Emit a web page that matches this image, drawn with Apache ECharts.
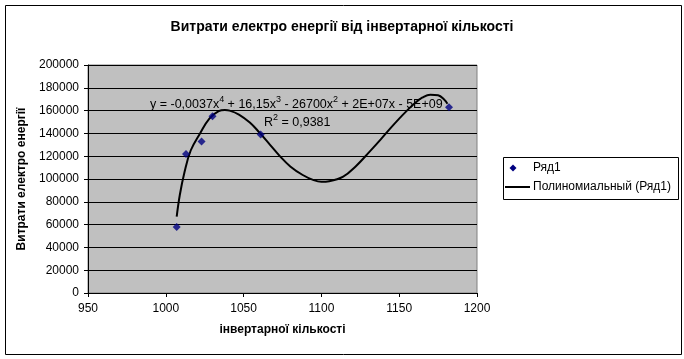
<!DOCTYPE html>
<html><head><meta charset="utf-8">
<script src="https://cdn.jsdelivr.net/npm/echarts@6/dist/echarts.min.js"></script>
<style>html,body{margin:0;padding:0;background:#fff}#c{width:684px;height:359px}</style>
</head><body><div id="c"></div>
<script>
// Data
const pointX = [1007, 1013, 1023, 1030, 1061, 1182];
const pointY = [58000, 122000, 133000, 155000, 139000, 163000];
// Trend line (polynomial, degree 4)
const trendX = [1007, 1009, 1012, 1016, 1022, 1028, 1034, 1038, 1041, 1047, 1054, 1060, 1067, 1073, 1080, 1088, 1095, 1100, 1105, 1114, 1122, 1131, 1138, 1144, 1150, 1155, 1160, 1165, 1170, 1175, 1179, 1181];
const trendY = [67000, 86000, 106000, 125000, 140000, 153000, 159500, 160500, 160000, 156500, 149500, 141000, 130000, 120500, 111000, 103500, 99000, 97500, 98000, 102000, 111000, 124000, 134500, 144000, 153000, 160000, 166500, 171500, 174000, 173500, 169500, 166000];
const xTicks = [950, 1000, 1050, 1100, 1150, 1200];
const yTicks = [0, 20000, 40000, 60000, 80000, 100000, 120000, 140000, 160000, 180000, 200000];
const seriesNames = ['Ряд1', 'Полиномиальный (Ряд1)'];
const titleText = 'Витрати електро енергії від інвертарної кількості';
const xName = 'інвертарної кількості';
const yName = 'Витрати електро енергії';
const eqRich = '{n|y = -0,0037x}{s|4}{n| + 16,15x}{s|3}{n| - 26700x}{s|2}{n| + 2E+07x - 5E+09}';
const r2Rich = '{n|R}{s|2}{n| = 0,9381}';

const font = '"Liberation Sans", Arial, sans-serif';
const richStyles = {
  n: {fontFamily: font, fontSize: 12.5, lineHeight: 16, color: '#000', verticalAlign: 'bottom'},
  s: {fontFamily: font, fontSize: 9, lineHeight: 16, color: '#000', verticalAlign: 'top'}
};
const chart = echarts.init(document.getElementById('c'), null, {renderer: 'canvas'});
chart.setOption({
  animation: false,
  backgroundColor: '#fff',
  textStyle: {fontFamily: font},
  title: {
    text: titleText, left: 'center', top: 15,
    textStyle: {fontFamily: font, fontSize: 14, fontWeight: 'bold', color: '#000'}
  },
  grid: {
    left: 88, right: 207, top: 65, bottom: 66,
    show: true, backgroundColor: '#c0c0c0', borderColor: '#808080', borderWidth: 1
  },
  legend: {show: false},
  xAxis: {
    type: 'value', min: xTicks[0], max: xTicks[xTicks.length - 1], interval: 50,
    name: xName, nameLocation: 'middle', nameGap: 31,
    nameTextStyle: {fontFamily: font, fontSize: 12, fontWeight: 'bold', color: '#000'},
    axisLine: {show: true, onZero: false, lineStyle: {color: '#000', width: 1}},
    axisTick: {show: true, length: 4, lineStyle: {color: '#000'}},
    axisLabel: {fontFamily: font, fontSize: 12, color: '#000', margin: 10, formatter: v => String(v)},
    splitLine: {show: false}
  },
  yAxis: {
    type: 'value', min: yTicks[0], max: yTicks[yTicks.length - 1], interval: 20000,
    name: yName, nameLocation: 'middle', nameGap: 52, nameRotate: 90,
    nameTextStyle: {fontFamily: font, fontSize: 12, fontWeight: 'bold', color: '#000'},
    axisLine: {show: true, onZero: false, lineStyle: {color: '#000', width: 1}},
    axisTick: {show: true, length: 4, lineStyle: {color: '#000'}},
    axisLabel: {fontFamily: font, fontSize: 12, color: '#000', margin: 9, formatter: v => String(v)},
    splitLine: {show: true, lineStyle: {color: '#000', width: 1}}
  },
  series: [
    {
      name: seriesNames[0], type: 'scatter', z: 3,
      symbol: 'diamond', symbolSize: 8,
      itemStyle: {color: '#000080'},
      data: pointX.map((x, i) => [x, pointY[i]])
    },
    {
      name: seriesNames[1], type: 'line', z: 2,
      symbol: 'none', smooth: 0.4,
      lineStyle: {color: '#000', width: 2},
      data: trendX.map((x, i) => [x, trendY[i]])
    }
  ],
  graphic: [
    {type: 'rect', shape: {x: 5.5, y: 5.5, width: 676, height: 349}, style: {fill: null, stroke: '#000', lineWidth: 1}, z: 100, silent: true},
    {type: 'text', left: 150, top: 95, z: 50, style: {text: eqRich, rich: richStyles}},
    {type: 'text', left: 264, top: 113, z: 50, style: {text: r2Rich, rich: richStyles}},
    // legend
    {type: 'rect', shape: {x: 503.5, y: 157.5, width: 175, height: 42}, style: {fill: '#fff', stroke: '#000', lineWidth: 1}, z: 60},
    {type: 'polygon', shape: {points: [[513, 164.5], [516.5, 168], [513, 171.5], [509.5, 168]]}, style: {fill: '#000080'}, z: 61},
    {type: 'text', x: 533, y: 168, z: 61, style: {text: seriesNames[0], font: '12px ' + font, fill: '#000', verticalAlign: 'middle'}},
    {type: 'line', shape: {x1: 505, y1: 187, x2: 530, y2: 187}, style: {stroke: '#000', lineWidth: 2}, z: 61},
    {type: 'text', x: 533, y: 187, z: 61, style: {text: seriesNames[1], font: '12px ' + font, fill: '#000', verticalAlign: 'middle'}}
  ]
});
</script></body></html>
